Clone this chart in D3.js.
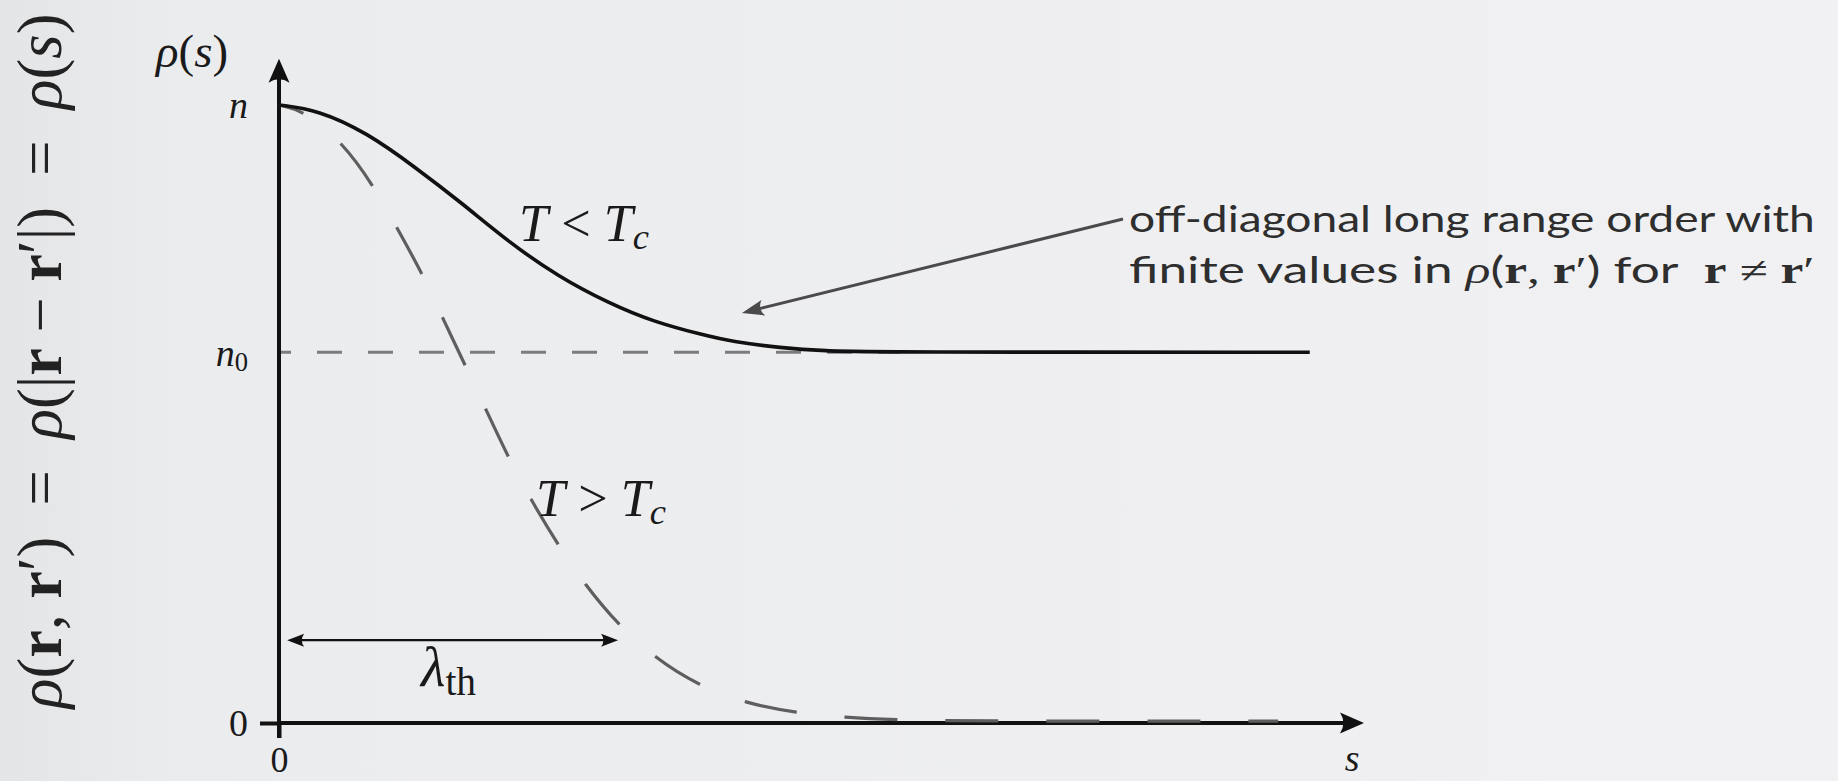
<!DOCTYPE html>
<html>
<head>
<meta charset="utf-8">
<script src="https://cdn.jsdelivr.net/npm/d3@7"></script>
<style>
  html, body { margin: 0; padding: 0; background: #eeeef0; }
  svg { display: block; }
  text { white-space: pre; }
</style>
</head>
<body>
<svg id="chart" width="1838" height="781"></svg>
<script>
// Separation s in units of the thermal wavelength λ_th; density in units of n.
const condensedS   = [0, 0.115, 0.26, 0.40, 0.54, 0.68, 0.825, 0.97, 1.105, 1.25, 1.335, 1.48, 1.61, 1.76, 3.04];
const condensedRho = [1, 0.992, 0.955, 0.900, 0.841, 0.777, 0.722, 0.680, 0.649, 0.628, 0.617, 0.607, 0.602, 0.600, 0.600];

const thermalS   = [0, 0.077, 0.186, 0.277, 0.348, 0.422, 0.481, 0.549, 0.608, 0.676, 0.740, 0.823, 0.903, 1.000, 1.109, 1.236, 1.375, 1.528, 1.667, 1.826, 1.968, 2.947];
const thermalRho = [1, 0.990, 0.940, 0.871, 0.801, 0.728, 0.657, 0.579, 0.510, 0.430, 0.364, 0.288, 0.223, 0.159, 0.105, 0.061, 0.032, 0.016, 0.009, 0.005, 0.003, 0.003];

const condensateLevel = 0.6;   // n0 / n
const lambdaTh = 1;

const yTickValues = [0, condensateLevel, 1];
const yTickNames  = ["0", "n", "n"];
const yTickSubs   = ["", "0", ""];
const xTickValues = [0];
const xTickNames  = ["0"];

const W = 1838, H = 781;
const svg = d3.select("#chart");

const SERIF = "'Liberation Serif', 'DejaVu Serif', serif";
const SANS  = "Lato, 'Open Sans', 'DejaVu Sans', sans-serif";

// soft slide background
const defs = svg.append("defs");
const bg = defs.append("linearGradient").attr("id", "bg")
  .attr("x1", 0).attr("x2", 1).attr("y1", 0).attr("y2", 0);
bg.append("stop").attr("offset", "0%").attr("stop-color", "#e4e5e7");
bg.append("stop").attr("offset", "10%").attr("stop-color", "#ebecee");
bg.append("stop").attr("offset", "100%").attr("stop-color", "#f1f1f3");
svg.append("rect").attr("width", W).attr("height", H).attr("fill", "url(#bg)");

const x = d3.scaleLinear().domain([0, 3.2]).range([279, 1364]);
const y = d3.scaleLinear().domain([0, 1]).range([723, 105]);

const line = d3.line()
  .x(d => x(d[0]))
  .y(d => y(d[1]))
  .curve(d3.curveBasis);

// math-style text built from [string, style] pieces
function mathText(sel, parts, fontSize) {
  sel.attr("font-size", fontSize);
  parts.forEach(([str, style]) => {
    const t = sel.append("tspan").text(str);
    if (style === "i") t.attr("font-family", SERIF).attr("font-style", "italic");
    else if (style === "b") t.attr("font-family", SERIF).attr("font-weight", "bold");
    else if (style === "r") t.attr("font-family", SERIF);
    else if (style === "s") t.attr("font-family", SANS);
    else if (style === "sub") t.attr("font-family", SERIF).attr("font-style", "italic")
                              .attr("font-size", "0.7em").attr("dy", "0.22em");
    else if (style === "subr") t.attr("font-family", SERIF)
                              .attr("font-size", "0.7em").attr("dy", "0.22em");
  });
  return sel;
}
function fitWidth(sel, target) {
  const w = sel.node().getComputedTextLength();
  const fs = parseFloat(sel.attr("font-size"));
  sel.attr("font-size", fs * target / w);
  return sel;
}
// stretch a line horizontally to the given width, keeping its glyph height
function stretchTo(sel, target, ox, oy) {
  const w = sel.node().getComputedTextLength();
  sel.attr("x", 0).attr("y", 0)
    .attr("transform", `translate(${ox},${oy}) scale(${target / w},1)`);
  return sel;
}

// arrowhead pointing along `angle` with its tip at (tx, ty)
function arrowHead(g, tx, ty, angle, len, wid, color) {
  const p = `M0,0 L${-len},${-wid / 2} Q${-len * 0.72},0 ${-len},${wid / 2} Z`;
  g.append("path").attr("d", p).attr("fill", color)
    .attr("transform", `translate(${tx},${ty}) rotate(${angle * 180 / Math.PI})`);
}

const plot = svg.append("g");
const axisColor = "#111";

// n0 reference level
plot.append("line")
  .attr("x1", x(0)).attr("x2", x(1.83))
  .attr("y1", y(condensateLevel)).attr("y2", y(condensateLevel))
  .attr("stroke", "#7c7c7c").attr("stroke-width", 3)
  .attr("stroke-dasharray", "25 26").attr("stroke-dashoffset", 13);

// axes
const yTop = y(1.075);
plot.append("line").attr("x1", x(0)).attr("x2", x(0))
  .attr("y1", y(0) + 15).attr("y2", yTop + 12)
  .attr("stroke", axisColor).attr("stroke-width", 4);
arrowHead(plot, x(0), yTop, -Math.PI / 2, 24, 21, axisColor);

plot.append("line").attr("x1", x(0)).attr("x2", x(3.2) - 12)
  .attr("y1", y(0)).attr("y2", y(0))
  .attr("stroke", axisColor).attr("stroke-width", 4);
arrowHead(plot, x(3.2), y(0), 0, 24, 21, axisColor);

// T > Tc : thermal gas
plot.append("path")
  .datum(d3.zip(thermalS, thermalRho))
  .attr("d", line)
  .attr("fill", "none").attr("stroke", "#5e5e5e").attr("stroke-width", 3.2)
  .attr("stroke-dasharray", "53 48").attr("stroke-dashoffset", 27);

// T < Tc : condensed phase
plot.append("path")
  .datum(d3.zip(condensedS, condensedRho))
  .attr("d", line)
  .attr("fill", "none").attr("stroke", "#111").attr("stroke-width", 3.6);

const gy = plot.append("g").attr("transform", `translate(${x(0)},0)`)
  .call(d3.axisLeft(y).tickValues(yTickValues).tickSizeInner(19).tickSizeOuter(0)
        .tickPadding(12).tickFormat(() => ""));
gy.select(".domain").remove();
gy.selectAll(".tick line")
  .attr("stroke", axisColor).attr("stroke-width", 4)
  .attr("display", d => d === 0 ? null : "none");
gy.selectAll(".tick text").each(function (d) {
  const i = yTickValues.indexOf(d);
  const t = d3.select(this).attr("fill", "#1a1a1a").attr("dy", "0.34em");
  const parts = [[yTickNames[i], d === 0 ? "r" : "i"]];
  if (yTickSubs[i]) parts.push([yTickSubs[i], "subr"]);
  mathText(t, parts, 38);
});

const gx = plot.append("g").attr("transform", `translate(0,${y(0)})`)
  .call(d3.axisBottom(x).tickValues(xTickValues).tickSizeInner(15).tickSizeOuter(0)
        .tickPadding(8).tickFormat((d, i) => xTickNames[i]));
gx.select(".domain").remove();
gx.selectAll(".tick line").attr("stroke", axisColor).attr("stroke-width", 4);
gx.selectAll(".tick text").attr("font-family", SERIF).attr("font-size", 36).attr("fill", "#1a1a1a");

// axis names
fitWidth(mathText(plot.append("text").attr("x", 192).attr("y", 67).attr("text-anchor", "middle").attr("fill", "#1a1a1a"),
  [["ρ", "i"], ["(", "r"], ["s", "i"], [")", "r"]], 40), 72);
mathText(plot.append("text").attr("x", x(3.165)).attr("y", 771).attr("text-anchor", "middle").attr("fill", "#1a1a1a"),
  [["s", "i"]], 38);

// curve labels
fitWidth(mathText(plot.append("text").attr("x", 519).attr("y", 241).attr("fill", "#1a1a1a"),
  [["T", "i"], [" < ", "r"], ["T", "i"], ["c", "sub"]], 40), 130);
fitWidth(mathText(plot.append("text").attr("x", 536).attr("y", 516).attr("fill", "#1a1a1a"),
  [["T", "i"], [" > ", "r"], ["T", "i"], ["c", "sub"]], 40), 130);

// thermal wavelength marker
const lamY = y(0.134);
plot.append("line").attr("x1", x(0.024) + 8).attr("x2", x(lambdaTh) - 8)
  .attr("y1", lamY).attr("y2", lamY)
  .attr("stroke", "#111").attr("stroke-width", 2.2);
arrowHead(plot, x(0.024), lamY, Math.PI, 17, 13, "#111");
arrowHead(plot, x(lambdaTh), lamY, 0, 17, 13, "#111");
fitWidth(mathText(plot.append("text").attr("x", 421).attr("y", 686).attr("fill", "#1a1a1a"),
  [["λ", "i"], ["th", "subr"]], 40), 55);

// vertical equation on the left
const eq = plot.append("text")
  .attr("transform", "translate(61,361) rotate(-90)")
  .attr("text-anchor", "middle").attr("fill", "#222");
mathText(eq, [["ρ", "i"], ["(", "r"], ["r", "b"], [", ", "r"], ["r", "b"], ["′", "r"], [")", "r"],
  ["  =  ", "r"], ["ρ", "i"], ["(|", "r"], ["r", "b"], [" − ", "r"], ["r", "b"], ["′", "r"], ["|)", "r"],
  ["  =  ", "r"], ["ρ", "i"], ["(", "r"], ["s", "i"], [")", "r"]], 56);
fitWidth(eq, 695);

// annotation for the off-diagonal long range order
const tail = [1123, 219], tip = [742, 313];
const ang = Math.atan2(tip[1] - tail[1], tip[0] - tail[0]);
plot.append("line")
  .attr("x1", tail[0]).attr("y1", tail[1])
  .attr("x2", tip[0] - 14 * Math.cos(ang)).attr("y2", tip[1] - 14 * Math.sin(ang))
  .attr("stroke", "#4a4a4a").attr("stroke-width", 3);
arrowHead(plot, tip[0], tip[1], ang, 22, 16, "#4a4a4a");

const note1 = plot.append("text").attr("fill", "#2e2e2e");
mathText(note1, [["off-diagonal long range order with", "s"]], 37);
stretchTo(note1, 686, 1129, 232);
const note2 = plot.append("text").attr("fill", "#2e2e2e");
mathText(note2, [["finite values in ", "s"], ["ρ", "i"], ["(", "s"], ["r", "b"], [", ", "r"], ["r", "b"], ["′", "r"],
  [")", "s"], [" for  ", "s"], ["r", "b"], [" ≠ ", "r"], ["r", "b"], ["′", "r"]], 37);
stretchTo(note2, 686, 1129, 283);
</script>
</body>
</html>
